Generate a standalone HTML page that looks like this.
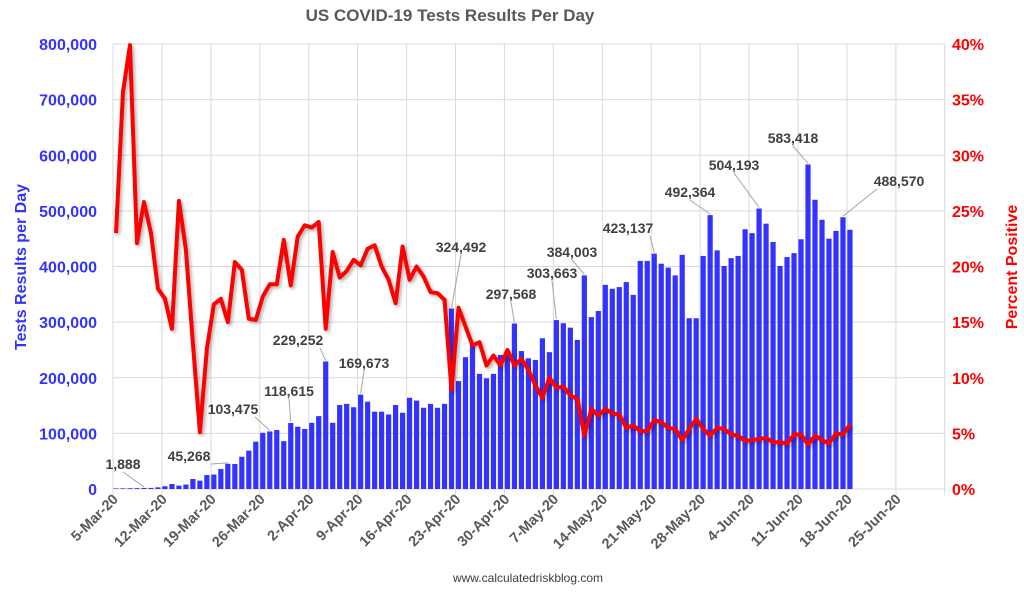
<!DOCTYPE html>
<html><head><meta charset="utf-8"><style>
body{margin:0;background:#fff;width:1024px;height:594px;overflow:hidden}
svg text{font-family:"Liberation Sans",Arial,sans-serif}
</style></head><body>
<svg id="c" width="1024" height="594" xmlns="http://www.w3.org/2000/svg">
<defs><filter id="sh" x="-5%" y="-5%" width="110%" height="110%"><feDropShadow dx="2" dy="2" stdDeviation="1.5" flood-color="#000" flood-opacity="0.3"/></filter></defs>
<text x="450" y="21" text-anchor="middle" font-size="17" font-weight="bold" fill="#595959">US COVID-19 Tests Results Per Day</text>
<text transform="translate(26,267) rotate(-90)" text-anchor="middle" font-size="16" font-weight="bold" fill="#3333ff">Tests Results per Day</text>
<text transform="translate(1017,267) rotate(-90)" text-anchor="middle" font-size="16" font-weight="bold" fill="#ff0000">Percent Positive</text>
<text x="528" y="582" text-anchor="middle" font-size="12" fill="#404040">www.calculatedriskblog.com</text>
<g id="grid"></g><g id="bars"></g><g id="line"></g><g id="axes"></g><g id="labels"></g>
</svg>
<script>
const tests=[1000,1200,1400,1500,1888,2000,3000,5000,9000,6000,8000,18000,15000,25000,26000,36000,45268,45000,58000,69000,85000,101000,103475,106000,86000,118615,112000,108000,119000,131000,229252,119000,151000,153000,147000,169673,157000,139000,139000,134000,151000,137000,164000,159000,146000,153000,146000,153000,324492,194000,237000,261000,207000,199000,207000,241000,241000,297568,248000,235000,232000,271000,246000,303663,298000,290000,268000,384003,309000,320000,367000,360000,363000,372000,349000,410000,410000,423137,405000,398000,384000,421000,307000,307000,419000,492364,429000,401000,415000,419000,467000,460000,504193,477000,444000,401000,417000,424000,449000,583418,520000,484000,450000,464000,488570,466000];
const pct=[23.0,35.7,39.9,22.1,25.8,23.0,18.0,17.1,14.4,25.9,21.5,13.1,5.1,12.6,16.6,17.1,15.0,20.4,19.7,15.3,15.2,17.3,18.4,18.4,22.4,18.3,22.7,23.7,23.5,24.0,14.4,21.3,19.0,19.6,20.6,20.1,21.6,21.9,20.0,18.8,16.7,21.8,18.8,20.0,19.1,17.7,17.6,17.0,8.9,16.3,14.6,12.9,13.2,11.1,12.0,11.1,12.5,11.1,11.7,10.7,9.3,8.2,10.0,9.1,9.2,8.4,8.1,4.8,7.2,6.6,7.2,6.8,6.7,5.5,5.7,5.2,5.2,6.2,6.0,5.5,5.4,4.4,5.4,6.3,5.4,4.8,5.5,5.4,4.9,4.8,4.3,4.4,4.5,4.6,4.2,4.2,4.1,4.9,4.9,4.0,4.8,4.4,4.1,5.0,4.9,5.8];
const xTicks=["5-Mar-20","12-Mar-20","19-Mar-20","26-Mar-20","2-Apr-20","9-Apr-20","16-Apr-20","23-Apr-20","30-Apr-20","7-May-20","14-May-20","21-May-20","28-May-20","4-Jun-20","11-Jun-20","18-Jun-20","25-Jun-20"];
const yTicks=[0,100000,200000,300000,400000,500000,600000,700000,800000];
const pTicks=[0,5,10,15,20,25,30,35,40];
const annotated=[4,16,22,25,30,35,48,57,63,67,77,85,92,99,104];
const labelPos=[[123,469],[189,461],[233,414],[289,396],[298,345],[364,368],[461,252],[511,299],[552,278],[572,257],[628,233],[690,197],[734,170],[793,143],[899,186]];
const NS="http://www.w3.org/2000/svg";
const X0=113,DAY=6.99,Y0=489,YT=44;
const xi=i=>X0+3+DAY*i;
const yv=v=>Y0-(v/800000)*(Y0-YT);
const yp=p=>Y0-(p/40)*(Y0-YT);
function mk(t,a,p){const e=document.createElementNS(NS,t);for(const k in a)e.setAttribute(k,a[k]);p.appendChild(e);return e;}
const G=document.getElementById('grid'),B=document.getElementById('bars'),L=document.getElementById('line'),A=document.getElementById('axes'),T=document.getElementById('labels');
yTicks.forEach((v,k)=>{
  const y=yv(v);
  const g=mk('line',{x1:X0,x2:945,y1:y,y2:y,stroke:'#d9d9d9','stroke-width':1},G);
  
  
  const t=mk('text',{x:97,y:y+6,'text-anchor':'end','font-size':16,'font-weight':'bold',fill:'#3333ff'},A);
  t.textContent=v.toLocaleString('en-US');
  
  
});
pTicks.forEach(p=>{
  const t=mk('text',{x:952,y:yp(p)+6,'font-size':16,'font-weight':'bold',fill:'#ff0000'},A);
  t.textContent=p+'%';
  
  
});
for(let w=0;w<=xTicks.length;w++){
  const x=X0+DAY*7*w;
  const g=mk('line',{x1:x,x2:x,y1:YT,y2:Y0+6,stroke:'#d9d9d9','stroke-width':1},G);
  
  
  if(w<xTicks.length){
    const t=mk('text',{transform:`translate(${x+6},${Y0+11}) rotate(-45)`,'text-anchor':'end','font-size':14.5,'font-weight':'bold',fill:'#595959'},A);
    t.textContent=xTicks[w];
    
    
  }
}
tests.forEach((v,i)=>{
  const y=yv(v);
  const r=mk('rect',{x:xi(i)-2.6,y:y,width:5.2,height:Y0-y,fill:'#3333ff'},B);
  
  
});
const pl=mk('polyline',{points:pct.map((p,i)=>xi(i)+','+yp(p)).join(' '),fill:'none',stroke:'#ff0000','stroke-width':4,'stroke-linejoin':'round',filter:'url(#sh)'},L);


annotated.forEach((i,k)=>{
  const [lx,ly]=labelPos[k];
  const bx=xi(i),by=yv(tests[i]);
  const ln=mk('line',{x1:lx+(bx>lx+26?22:bx<lx-26?-22:0),y1:ly+3,x2:bx,y2:by-1,stroke:'#a6a6a6','stroke-width':1},T);
  
  
  const t=mk('text',{x:lx,y:ly,'text-anchor':'middle','font-size':14,'font-weight':'bold',fill:'#404040'},T);
  t.textContent=tests[i].toLocaleString('en-US');
  
  
});
</script>
</body></html>
